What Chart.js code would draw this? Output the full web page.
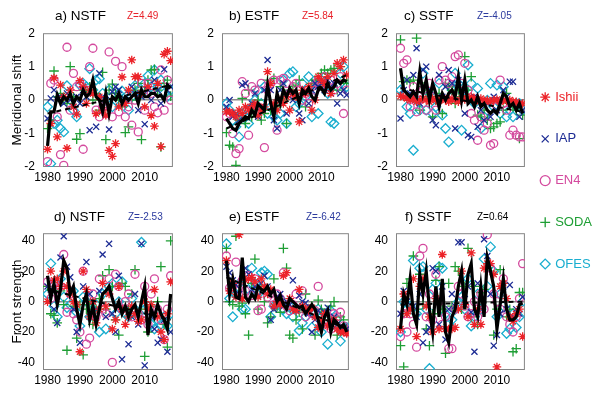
<!DOCTYPE html>
<html>
<head>
<meta charset="utf-8">
<script src="https://cdn.jsdelivr.net/npm/chart.js@4"></script>
<style>
  body { margin: 0; background: #fff; font-family: "Liberation Sans", Arial, sans-serif; }
  #wrap { position: relative; width: 600px; height: 393px; overflow: hidden; }
  canvas { position: absolute; }
  .ttl { position: absolute; font-size: 13.5px; line-height: 15px; color: #000; white-space: nowrap; }
  .z { position: absolute; font-size: 10px; line-height: 12px; white-space: nowrap; }
</style>
</head>
<body>
<div id="wrap"></div>
<script>
const years = [1980, 1981, 1982, 1983, 1984, 1985, 1986, 1987, 1988, 1989,
  1990, 1991, 1992, 1993, 1994, 1995, 1996, 1997, 1998, 1999,
  2000, 2001, 2002, 2003, 2004, 2005, 2006, 2007, 2008, 2009,
  2010, 2011, 2012, 2013, 2014, 2015, 2016, 2017, 2018];
const trendYears = [1980, 2018];
const xTicks = [1980, 1990, 2000, 2010];
const shiftTicks = [-2, -1, 0, 1, 2];
const strengthTicks = [-40, -20, 0, 20, 40];
const seriesNames = ["Ishii", "IAP", "EN4", "SODA", "OFES"];

// a) NSTF meridional shift
const aIshii = [-1.47, -0.7, 0.66, -1.1, 0.45, 0.1, -1.44, 0.3, -0.2, -0.42,
  0.58, 0.4, -0.1, 0.3, 0.2, -0.4, 0.1, -0.3, -0.45, -1.5,
  -1.68, -1.3, -0.2, 0.69, -0.1, 0.3, 1.2, 0.7, 0.7, 0.2,
  -0.2, 0.4, -0.46, -0.78, 0.5, -1.39, 1.37, 1.46, 1.18];
const aIAP = [-0.55, 0.05, 0.3, 0.0, 0.1, -0.1, 0.2, 0.0, -0.2, 0.1,
  -0.1, 0.3, 0.1, -0.9, 0.2, -0.8, 0.8, 0.1, 0.0, -0.88,
  0.25, 0.4, 0.3, -0.1, 0.0, 0.2, 0.4, 0.2, -0.3, 0.1,
  -0.72, 0.3, 0.0, 0.6, 0.3, -0.1, 0.92, 0.3, 0.4];
const aEN4 = [-1.84, 0.5, 0.6, -0.5, -1.63, -1.95, 1.58, -0.3, 0.8, 0.4,
  0.5, -1.47, 0.3, 1.0, 1.55, -0.3, -0.5, -0.2, -0.4, 1.44,
  -0.5, 1.16, -0.35, 1.0, -0.5, -0.2, -0.75, 0.0, -0.95, 0.5,
  -0.3, 0.5, 0.2, -0.2, -0.38, 0.9, -0.3, 0.6, 0.0];
const aSODA = [-0.85, -0.6, 0.87, 0.1, 0.2, 0.0, -0.1, 1.0, 0.1, -1.17,
  -1.0, 0.3, 0.2, 0.4, 0.0, 0.2, -0.3, 0.83, -1.18, 0.3,
  0.48, 0.2, 0.0, -0.2, -0.97, -0.8, 0.0, 0.3, 0.5, -1.18,
  0.4, 0.6, 0.9, 0.92, 0.3, -1.4, 0.5, 0.6, 0.12];
const aOFES = [-0.2, -1.9, -0.7, -0.6, -0.85, -0.95, 0.43, 0.0, -0.3, -0.5,
  0.45, 0.5, 0.4, 0.94, 0.3, 0.6, 0.64, 0.2, 0.0, 0.3,
  -0.2, 0.0, 0.2, 0.27, 0.0, -0.3, 0.1, 0.44, 0.3, 0.2,
  0.5, 0.73, 0.4, 0.9, 0.4, 0.6, 0.2, 0.1, 0.3];
const aMean = [-1.37, -0.35, -0.35, 0.15, -0.1, 0.1, 0.0, 0.2, -0.1, 0.1,
  0.0, 0.3, 0.1, 0.2, 0.6, 0.1, 0.0, -0.35, 0.2, -0.4,
  0.1, 0.0, 0.2, -0.1, 0.1, 0.0, 0.1, 0.2, -0.1, 0.3,
  0.1, 0.1, 0.2, 0.2, 0.1, 0.15, 0.0, 0.45, 0.35];
const aTrend = [-0.4, 0.45];

// b) ESTF meridional shift
const bIshii = [-0.35, -0.35, -0.4, -0.5, -0.3, -0.4, -0.2, -0.3, -0.2, -0.1,
  -0.45, -0.3, -0.2, 0.85, 0.5, -0.1, -0.3, 0.0, -0.1, 0.1,
  -0.3, 0.2, 0.1, -0.65, 0.3, 0.2, 0.4, -0.3, 0.0, 0.7,
  0.6, 0.5, 0.7, 0.2, 0.8, 1.1, 1.0, 1.2, 0.75];
const bIAP = [-0.2, 0.0, -0.5, -0.4, -0.6, 0.45, 0.5, -0.3, -0.1, 0.2,
  -0.5, -0.2, 0.3, 1.2, 0.3, -0.6, -0.85, 0.3, 0.5, -0.4,
  0.2, 0.0, 0.1, -0.4, -0.6, 0.3, -0.1, 0.3, 0.5, 0.4,
  0.5, 0.3, 0.6, 0.2, 0.5, -0.1, 0.2, 0.3, 0.15];
const bEN4 = [-0.5, -0.4, -1.0, -1.6, -1.45, 0.55, 0.2, -1.05, 0.4, 0.3,
  -0.2, 0.5, -1.42, 0.3, 0.5, 0.6, -0.9, 0.6, 0.65, 0.5,
  0.2, 0.4, 0.5, 0.3, 0.0, 0.2, -0.1, 0.4, 0.3, 0.6,
  0.5, 0.7, 0.4, 0.6, 0.3, 0.5, 0.7, -0.4, 0.3];
const bSODA = [-0.97, -1.35, -1.4, -1.95, -0.6, 0.05, -0.7, 0.3, -0.5, -0.3,
  0.0, -0.6, -0.4, 0.6, -0.3, 0.65, -0.2, 0.4, 0.0, -0.7,
  0.3, 0.4, 0.45, 0.6, 0.2, -0.2, 0.3, 0.5, 0.6, 0.4,
  0.8, 0.9, 0.8, 0.9, 0.95, 0.3, 1.0, 0.6, 0.5];
const bOFES = [-0.1, -0.3, -0.6, -0.8, -1.1, -0.4, -0.5, -0.7, -0.2, 0.0,
  0.3, -0.1, 0.4, -0.4, -0.2, -0.5, -0.6, -0.4, 0.6, -0.7,
  0.8, 0.85, -0.2, -0.1, 0.5, 0.1, 0.7, -0.5, 0.3, -0.4,
  0.6, 0.7, 0.2, -0.65, -0.7, 0.4, 0.8, 1.0, 0.4];
const bMean = [-0.55, -0.7, -0.85, -0.9, -0.7, -0.6, -0.5, -0.55, -0.3, -0.45,
  -0.1, -0.2, -0.3, 0.45, -0.1, -0.5, 0.2, -0.1, 0.3, 0.1,
  0.35, 0.2, 0.3, -0.1, 0.3, 0.2, 0.35, 0.1, 0.0, 0.3,
  0.35, 0.2, 0.5, 0.3, 0.4, 0.6, 0.5, 0.6, 0.55];
const bTrend = [-0.85, 0.75];

// c) SSTF meridional shift
const cIshii = [0.12, 0.1, 0.05, 0.0, 0.05, -0.05, 0.0, 0.05, 0.0, -0.05,
  0.05, 0.0, -0.02, 0.05, 0.0, -0.05, 0.05, 0.0, -0.05, 0.05,
  0.02, 0.05, 0.1, 0.05, 0.0, 0.05, -0.02, 0.0, -0.05, 0.0,
  0.02, -0.05, 0.0, -0.02, 0.0, -0.05, -0.05, -0.1, -0.1];
const cIAP = [-0.55, 0.3, 0.6, 0.2, 0.75, 1.55, -0.1, 0.9, 1.0, 0.3,
  -0.6, -0.75, 0.75, 0.1, 0.4, 0.9, 0.5, -0.85, 0.6, 0.3,
  -0.4, -1.05, -1.1, 0.1, -0.8, -0.3, -0.6, -0.1, -0.5, 0.1,
  -0.3, 0.0, 0.3, 0.1, 0.55, 0.55, -0.1, -0.5, -0.3];
const cEN4 = [1.55, 1.1, 1.2, -0.2, 0.4, -0.35, 0.0, 0.3, -0.3, 0.5,
  0.1, -0.3, 0.6, 1.0, 0.6, 0.5, 0.7, 1.3, 1.35, 0.5,
  1.1, 0.3, -0.4, -0.6, -1.2, -0.5, -0.9, -0.7, -1.35, -1.3,
  -0.2, 0.6, -0.1, -0.3, -1.05, -0.9, -1.05, -1.1, -1.1];
const cSODA = [1.8, 0.55, 0.6, 0.55, 0.6, 1.85, -0.3, 0.4, 0.3, 0.1,
  -0.5, 0.0, 0.2, -0.4, 0.5, 0.4, 0.3, -0.1, 0.3, 0.1,
  1.3, 0.3, 0.7, 0.0, -0.45, -0.5, -0.3, -0.6, -0.85, -0.8,
  -0.7, -0.65, -0.3, 0.2, -0.1, -0.2, -0.3, -1.15, -0.45];
const cOFES = [0.3, 0.2, -0.2, -0.4, -1.5, 0.0, -0.3, 0.8, -0.3, 0.2,
  -0.4, -0.2, 0.5, -0.45, -0.85, -1.25, 0.3, 0.8, 0.5, -0.9,
  0.3, 1.05, 0.5, -0.1, 0.35, -0.85, -0.5, 0.0, 0.5, -0.2,
  0.45, -0.4, 0.4, -0.5, -0.3, -0.5, -0.1, -0.1, -0.3];
const cMean = [0.95, 0.3, 0.2, 0.1, 0.25, 0.1, 0.85, 0.2, 0.6, 0.0,
  0.5, 0.2, -0.2, 0.2, 0.0, 0.2, 0.3, 0.1, 0.7, 0.0,
  0.6, -0.1, 0.0, -0.2, 0.1, -0.2, -0.1, -0.3, -0.4, -0.3,
  -0.4, -0.1, 0.2, 0.1, -0.2, -0.1, -0.3, -0.1, -0.4];
const cTrend = [0.35, -0.35];

// d) NSTF front strength
const dIshii = [0, 20, 14, 15, 10, 20, 10, 5, 0, -2,
  -33, 20, 8, -10, 0, -14, -5, 12, -3, 5,
  -18, -12, 10, -5, -15, -10, -3, -8, -13, -12,
  0, -5, -2, 8, -10, -20, -25, -8, 13];
const dIAP = [10, 8, -5, -14, 29, 43, 23, 16, -5, -20,
  -27, 10, 26, 5, 0, -5, 7, 31, -10, 38,
  -8, -20, 17, -38, -5, -28, -10, 5, -15, 38,
  -42, -5, -10, -18, -27, -25, -12, -33, -20];
const dEN4 = [13, 2, 12, 8, 10, 31, -7, 5, -8, -12,
  -20, 20, -28, -24, 5, -10, 15, -5, -8, 15,
  -40, 18, 10, -5, 0, 5, -10, 18, -8, -12,
  10, -15, 5, 15, -5, -12, -25, -5, 17];
const dSODA = [10, -8, -9, -14, 7, -2, -32, 5, -3, -24,
  -2, -35, -5, -2, -15, -5, 2, 17, -5, 21,
  10, -12, -22, 12, 10, -5, 5, 21, -10, -5,
  -36, -20, -3, -10, 0, 23, -15, -30, 40];
const dOFES = [5, 25, -3, -10, 15, 3, -4, -2, 7, -7,
  -16, 3, 0, -10, -5, -2, -20, 5, -18, 10,
  12, -8, 0, 13, -8, -10, 2, -5, -8, 39,
  -5, -3, -15, -18, -12, -15, -10, -16, -8];
const dMean = [17, 2, 12, -2, 8, 27, 22, 5, 10, -5,
  -15, -2, 5, -12, -3, -15, -5, 5, 7, 10,
  2, -5, 0, -8, -3, -10, -5, -2, -10, 0,
  10, -22, -5, -10, -2, -8, -12, -18, 5];
const dTrend = [8, -12];

// e) ESTF front strength
const eIshii = [27, 7, 12, 3, 44, 2, 14, 15, 16, 13,
  3, 15, 10, 5, 8, -3, 0, -2, 17, 19,
  2, -5, -6, 8, -3, -5, -6, -4, -10, -17,
  -12, -8, -16, -14, -12, -18, -20, -20, -21];
const eIAP = [23, 19, 14, 11, 5, 15, 22, 18, 8, 10,
  4, 12, 17, 10, -12, -5, 3, 5, -3, 0,
  -2, 14, -5, 4, 0, -1, -8, -20, -12, -6,
  -15, -7, -4, -12, -10, -15, -20, -17, -18];
const eEN4 = [30, 9, 10, 26, 8, 14, 7, 17, 4, 15,
  -6, -5, 8, 3, 5, -2, 5, 2, 19, -3,
  -6, -2, 5, -5, 7, -10, -5, -8, -6, 10,
  -15, -12, -10, -18, -8, -10, -7, -16, -20];
const eSODA = [35, 0, -2, 43, -3, -1, -8, -22, 12, 28,
  -5, 10, 0, -14, -10, 15, -3, -7, 35, 22,
  -22, -24, -12, -7, -18, 5, -5, -3, -22, 1,
  -5, -8, -10, -3, 0, -22, -10, -12, -18];
const eOFES = [38, 2, -10, 5, 12, -5, -5, 8, 22, 12,
  5, 19, 20, 18, -10, -3, -2, 2, -5, -8,
  -3, -10, -5, -19, -14, -10, -5, -17, -8, -5,
  -20, -8, -28, -6, -15, -12, -26, -18, -17];
const eMean = [27, 5, 15, 3, 2, 29, 3, 0, 5, 2,
  10, 8, 7, 10, 5, 8, 0, 4, -2, -5,
  2, 0, -2, -4, -3, -8, -5, -2, -5, -12,
  -20, -10, -6, -20, -12, -14, -17, -15, -20];
const eTrend = [16, -18];

// f) SSTF front strength
const fIshii = [-18, 5, -8, -5, 15, -23, 10, 15, -3, -10,
  -20, 2, -18, 31, -18, -18, -18, -17, -5, 20,
  -2, -10, 32, -15, -5, -15, 22, 25, 25, 18,
  -43, 10, 12, 2, -10, -13, -8, -5, -23];
const fIAP = [-8, 7, 0, -5, -3, -10, 5, -27, -20, -17,
  22, 20, -15, 10, -25, -5, 5, -3, 39, 39,
  5, 10, -7, -33, 12, -5, 41, 30, 5, -29,
  -22, -8, 10, -5, 11, -10, -5, -8, 3];
const fEN4 = [-23, -8, -20, -8, -15, -30, 30, 35, -10, 5,
  -12, 18, 0, -15, -10, -31, -31, -5, 10, 5,
  -3, -10, -8, 0, -10, 5, -5, 44, 22, 5,
  0, -5, 15, -10, -15, -20, -10, 2, 25];
const fSODA = [-29, -43, 12, 15, 30, -5, 18, -2, -18, -29,
  -8, 14, 23, -5, -34, 12, -3, 23, 20, -5,
  10, 35, -10, 10, -15, 6, 8, 22, 20, -22,
  -5, 21, 12, -10, -5, -33, -31, 6, 6];
const fOFES = [-20, 0, -5, -3, 27, -8, 22, 23, -5, -44,
  8, 12, 23, 22, -8, -15, -12, -5, 0, 3,
  -5, 15, -16, -10, 5, -5, 28, 10, 36, 20,
  -10, 5, -3, -21, -18, -8, -17, -10, 0];
const fMean = [-18, 5, -2, 15, -8, -15, 18, 5, 20, -5,
  -20, 10, -10, 15, -20, -27, -10, -5, 10, 20,
  -5, 18, 25, -5, -10, 10, -10, 29, 20, 10,
  -18, -2, 15, -5, -12, -12, -10, -2, -1];
const fTrend = [-2, 0];

const red = "#e8232b";
const blue = "#2b3a9e";
const markers = [
  { color: "#ec2228", style: "star", r: 4.3 },
  { color: "#1d2c94", style: "crossRot", r: 4.3 },
  { color: "#d44a9e", style: "circle", r: 4 },
  { color: "#1e9e34", style: "cross", r: 4.8 },
  { color: "#1aaecf", style: "rectRot", r: 4.8 },
];

const panels = [
  { title: "a) NSTF", tx: 55, z: "Z=4.49", zx: 127, zColor: red, box: [43, 23, 174, 167], cx: 0,
    yMin: -2, yMax: 2, yTicks: shiftTicks, yTitle: "Meridional shift",
    series: [aIshii, aIAP, aEN4, aSODA, aOFES], mean: aMean, trend: aTrend },
  { title: "b) ESTF", tx: 229, z: "Z=5.84", zx: 302, zColor: red, box: [222, 23, 350, 167], cx: 180,
    yMin: -2, yMax: 2, yTicks: shiftTicks,
    series: [bIshii, bIAP, bEN4, bSODA, bOFES], mean: bMean, trend: bTrend },
  { title: "c) SSTF", tx: 404, z: "Z=-4.05", zx: 477, zColor: blue, box: [396, 23, 526, 167], cx: 360,
    yMin: -2, yMax: 2, yTicks: shiftTicks,
    series: [cIshii, cIAP, cEN4, cSODA, cOFES], mean: cMean, trend: cTrend },
  { title: "d) NSTF", tx: 54, z: "Z=-2.53", zx: 128, zColor: blue, box: [43, 223, 174, 370], cx: 0,
    yMin: -45, yMax: 45, yTicks: strengthTicks, yTitle: "Front strength",
    series: [dIshii, dIAP, dEN4, dSODA, dOFES], mean: dMean, trend: dTrend },
  { title: "e) ESTF", tx: 229, z: "Z=-6.42", zx: 306, zColor: blue, box: [222, 223, 350, 370], cx: 180,
    yMin: -45, yMax: 45, yTicks: strengthTicks,
    series: [eIshii, eIAP, eEN4, eSODA, eOFES], mean: eMean, trend: eTrend },
  { title: "f) SSTF", tx: 405, z: "Z=0.64", zx: 477, zColor: "#000", box: [396, 223, 526, 370], cx: 360,
    yMin: -45, yMax: 45, yTicks: strengthTicks,
    series: [fIshii, fIAP, fEN4, fSODA, fOFES], mean: fMean, trend: fTrend },
];

Chart.defaults.font.family = '"Liberation Sans", Arial, sans-serif';
Chart.defaults.color = "#000";

const boxPlugin = {
  id: "box",
  beforeDatasetsDraw(chart) {
    const { ctx, chartArea: a } = chart;
    ctx.save();
    ctx.strokeStyle = "#858585";
    ctx.lineWidth = 1;
    ctx.strokeRect(a.left + 0.5, a.top + 0.5, a.right - a.left - 1, a.bottom - a.top - 1);
    ctx.restore();
  },
};

const wrap = document.getElementById("wrap");

function addText(cls, text, x, y, color) {
  const d = document.createElement("div");
  d.className = cls;
  d.textContent = text;
  d.style.left = x + "px";
  d.style.top = y + "px";
  if (color) d.style.color = color;
  wrap.appendChild(d);
}

function buildPanel(p) {
  const [left, top, right, bottom] = p.box;
  const padTop = 5, padRight = 5, xAxisH = 24;
  const axisW = left - p.cx;
  const cv = document.createElement("canvas");
  const w = right - p.cx + padRight;
  const h = bottom - top + padTop + xAxisH;
  cv.width = w;
  cv.height = h;
  cv.style.width = w + "px";
  cv.style.height = h + "px";
  cv.style.left = p.cx + "px";
  cv.style.top = top - padTop + "px";
  wrap.appendChild(cv);

  const datasets = p.series.map((vals, i) => ({
    label: seriesNames[i],
    data: years.map((yr, j) => ({ x: yr, y: vals[j] })),
    pointStyle: markers[i].style,
    pointRadius: markers[i].r,
    borderColor: markers[i].color,
    backgroundColor: "rgba(0,0,0,0)",
    pointBorderWidth: 1.3,
    order: 2,
  }));
  datasets.push({
    label: "trend",
    data: trendYears.map((yr, j) => ({ x: yr, y: p.trend[j] })),
    showLine: true,
    borderColor: "#000",
    borderWidth: 2,
    borderDash: [5, 4],
    pointRadius: 0,
    order: 1,
  });
  datasets.push({
    label: "mean",
    data: years.map((yr, j) => ({ x: yr, y: p.mean[j] })),
    showLine: true,
    borderColor: "#000",
    borderWidth: 3.2,
    pointRadius: 0,
    order: 0,
  });

  new Chart(cv, {
    type: "scatter",
    data: { datasets },
    options: {
      responsive: false,
      animation: false,
      layout: { padding: { top: padTop, right: padRight, left: 0, bottom: 0 } },
      plugins: { legend: { display: false }, tooltip: { enabled: false } },
      scales: {
        x: {
          type: "linear",
          min: 1978.6,
          max: 2018.7,
          afterBuildTicks: (s) => { s.ticks = xTicks.map((v) => ({ value: v })); },
          afterFit: (s) => { s.height = xAxisH; },
          ticks: { font: { size: 12 }, padding: 3, maxRotation: 0, callback: (v) => String(v) },
          grid: { display: false, drawTicks: false },
          border: { display: false },
        },
        y: {
          min: p.yMin,
          max: p.yMax,
          afterBuildTicks: (s) => { s.ticks = p.yTicks.map((v) => ({ value: v })); },
          afterFit: (s) => { s.width = axisW; },
          ticks: { font: { size: 12 }, padding: 8, callback: (v) => String(v) },
          grid: {
            drawTicks: false,
            lineWidth: 1.5,
            color: (c) => (c.tick && c.tick.value === 0 ? "#8c8c8c" : "rgba(0,0,0,0)"),
          },
          border: { display: false },
          title: {
            display: !!p.yTitle,
            text: p.yTitle || "",
            font: { size: 13.5 },
            padding: { top: 9, bottom: 0 },
          },
        },
      },
    },
    plugins: [boxPlugin],
  });

  const ty = top < 100 ? 8 : 209;
  addText("ttl", p.title, p.tx, ty);
  addText("z", p.z, p.zx, ty + 2, p.zColor);
}

panels.forEach(buildPanel);

// legend, shared by all panels; the canvas runs past the page edge so the labels get room
const lg = document.createElement("canvas");
lg.width = 240;
lg.height = 250;
lg.style.width = "240px";
lg.style.height = "250px";
lg.style.left = "513px";
lg.style.top = "62px";
wrap.appendChild(lg);
new Chart(lg, {
  type: "scatter",
  data: {
    datasets: seriesNames.map((name, i) => ({
      label: name,
      data: [],
      pointStyle: markers[i].style,
      borderColor: markers[i].color,
      backgroundColor: "rgba(0,0,0,0)",
    })),
  },
  options: {
    responsive: false,
    animation: false,
    scales: { x: { display: false }, y: { display: false } },
    plugins: {
      tooltip: { enabled: false },
      legend: {
        position: "left",
        align: "start",
        labels: {
          usePointStyle: true,
          boxWidth: 7,
          boxHeight: 7,
          padding: 28.7,
          font: { size: 13 },
          generateLabels: (ch) => ch.data.datasets.map((d, i) => ({
            text: d.label,
            fontColor: d.borderColor,
            strokeStyle: d.borderColor,
            fillStyle: "rgba(0,0,0,0)",
            pointStyle: d.pointStyle,
            lineWidth: 1.3,
            hidden: false,
            datasetIndex: i,
          })),
        },
      },
    },
  },
});
</script>
</body>
</html>
